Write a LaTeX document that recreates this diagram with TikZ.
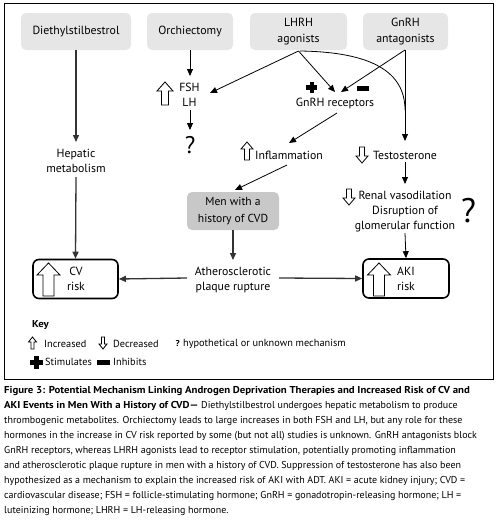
\documentclass[tikz,border=0pt]{standalone}
\usepackage{fontspec}
\setmainfont{PT Sans}[BoldFeatures={FakeStretch=1.08}]
\usetikzlibrary{arrows.meta}
\definecolor{boxgray}{HTML}{E6E6E6}
\definecolor{mengray}{HTML}{C8C8C8}
\newcommand\hollowup[6]{%
  \draw[hol] (#1,#2) -- ++(#3/2,#5) -- ++(-#3/2+#6/2,0) -- ++(0,#4-#5) -- ++(-#6,0) -- ++(0,-#4+#5) -- ++(-#3/2+#6/2,0) -- cycle;}
\newcommand\hollowdown[6]{%
  \draw[hol] (#1,#2) -- ++(#3/2,-#5) -- ++(-#3/2+#6/2,0) -- ++(0,-#4+#5) -- ++(-#6,0) -- ++(0,#4-#5) -- ++(-#3/2+#6/2,0) -- cycle;}
\tikzset{
  hol/.style={draw=black, fill=white, line width=0.8pt, line join=miter},
  topbox/.style={fill=boxgray, rounded corners=5pt, align=center, minimum height=37pt, inner sep=0pt, font=\fontsize{11.8}{16}\selectfont},
  menbox/.style={fill=mengray, rounded corners=5pt, align=center, minimum width=92pt, minimum height=38pt, inner sep=0pt, font=\fontsize{11.6}{17}\selectfont},
  riskbox/.style={draw=black, line width=1.6pt, rounded corners=6pt, minimum width=85pt, minimum height=39pt, inner sep=0pt},
  lbl/.style={align=center, inner sep=1pt, font=\fontsize{11.8}{15}\selectfont},
  conn/.style={-{Triangle[length=7pt,width=6pt]}, line width=0.8pt},
  connthick/.style={-{Triangle[length=7pt,width=6pt]}, line width=1.3pt, draw=black!80},
  keytxt/.style={anchor=west, inner sep=0pt, font=\fontsize{10.3}{12}\selectfont},
}
\begin{document}
\begin{tikzpicture}[x=1pt,y=-1pt]
\useasboundingbox (0,0) rectangle (501,523);
\draw[line width=1pt] (4,3) rectangle (493,379);
% top boxes
\node[topbox, minimum width=110pt] (dieth) at (76,31.5) {Diethylstilbestrol};
\node[topbox, minimum width=86pt] (orch) at (190,31.5) {Orchiectomy};
\node[topbox, minimum width=97pt] (lhrh) at (298.5,31.5) {LHRH\\agonists};
\node[topbox, minimum width=85pt] (gnrh) at (405.5,31.5) {GnRH\\antagonists};
% labels
\node[lbl] (hep) at (76,161) {Hepatic\\metabolism};
\node[lbl] (fsh) at (189.5,94.5) {FSH\\LH};
\node[inner sep=0pt, font=\fontsize{24}{24}\selectfont] (q1) at (190,145.5) {?};
\node[lbl] (rec) at (335,103.5) {GnRH receptors};
\node[lbl] (infl) at (289,155) {Inflammation};
\node[lbl] (test) at (405,155) {Testosterone};
\node[lbl] (renal) at (405,212) {Renal vasodilation\\Disruption of\\glomerular function};
\node[inner sep=0pt, font=\fontsize{34}{34}\selectfont] (q2) at (468.5,211) {?};
\node[menbox] (men) at (233,211) {Men with a\\history of CVD};
\node[lbl] (ath) at (233,279.5) {Atherosclerotic\\plaque rupture};
% risk boxes
\node[riskbox] (cv) at (75.5,279) {};
\node[lbl, anchor=center] (cvt) at (76,279) {CV\\risk};
\node[riskbox, minimum width=86pt] (aki) at (406,278.5) {};
\node[lbl, anchor=center] (akit) at (406,278.5) {AKI\\risk};
% hollow arrows
\hollowup{48.5}{263}{23}{33}{12}{11}
\hollowup{379}{263}{23}{33}{12}{11}
\hollowup{165}{82}{16}{23}{9}{7}
\hollowup{247}{142}{12}{18}{7}{5}
\hollowdown{362}{163}{12}{16}{7}{5}
\hollowdown{349}{205}{12}{16}{7}{5}
% plus / minus
\fill (309.5,82) rectangle ++(4.5,11);
\fill (306.3,85.3) rectangle ++(11,4.5);
\fill (356.5,86) rectangle ++(12,4.5);
% connectors
\draw[connthick] (dieth.south) -- (76,142);
\draw[connthick] (76,177) -- (cv.north);
\draw[conn] (orch.south) -- (190,76);
\draw[conn] (190,110) -- (190,130);
\draw[conn] (298.5,51) -- (210,93);
\draw[conn] (298.5,51) -- (335,92);
\draw[conn] (405,50) -- (341,92);
\draw[line width=0.8pt] (300,51) .. controls (372,52) and (405,72) .. (405,110);
\draw[conn] (405,50) -- (405,141);
\draw[conn] (337,113) -- (289,143);
\draw[conn] (287,165) -- (235,190);
\draw[connthick] (men.south) -- (233,260);
\draw[conn] (405,162) -- (405,184);
\draw[conn] (405,233) -- (aki.north);
\draw[connthick] (187,278) -- (cv.east);
\draw[connthick] (279,278) -- (aki.west);
% key
\node[keytxt, font=\bfseries\fontsize{10}{11}\selectfont] (key) at (32,325) {Key};
\hollowup{32.5}{337}{8}{12}{5}{3}
\node[keytxt] (kinc) at (44,343.5) {Increased};
\hollowdown{103}{349}{8}{12}{5}{3}
\node[keytxt] (kdec) at (113,343.5) {Decreased};
\node[keytxt, font=\bfseries\fontsize{8.5}{10}\selectfont] (kq) at (175.5,344) {?};
\node[keytxt] (khyp) at (183,343.5) {hypothetical or unknown mechanism};
\fill (34,356) rectangle ++(4.5,13);
\fill (29.8,360.3) rectangle ++(13,4.5);
\node[keytxt] (kstim) at (45,362) {Stimulates};
\fill (97,360) rectangle ++(13,4.5);
\node[keytxt] (kinh) at (113,362) {Inhibits};
% caption
\node[anchor=north west, align=left, inner sep=0pt, font=\fontsize{10}{15}\selectfont] (cap) at (4,386.5) {%
\textbf{Figure 3: Potential Mechanism Linking Androgen Deprivation Therapies and Increased Risk of CV and}\\
\textbf{AKI Events in Men With a History of CVD—} Diethylstilbestrol undergoes hepatic metabolism to produce\\
thrombogenic metabolites. Orchiectomy leads to large increases in both FSH and LH, but any role for these\\
hormones in the increase in CV risk reported by some (but not all) studies is unknown. GnRH antagonists block\\
GnRH receptors, whereas LHRH agonists lead to receptor stimulation, potentially promoting inflammation\\
and atherosclerotic plaque rupture in men with a history of CVD. Suppression of testosterone has also been\\
hypothesized as a mechanism to explain the increased risk of AKI with ADT. AKI = acute kidney injury; CVD =\\
cardiovascular disease; FSH = follicle-stimulating hormone; GnRH = gonadotropin-releasing hormone; LH =\\
luteinizing hormone; LHRH = LH-releasing hormone.};
\end{tikzpicture}
\end{document}
